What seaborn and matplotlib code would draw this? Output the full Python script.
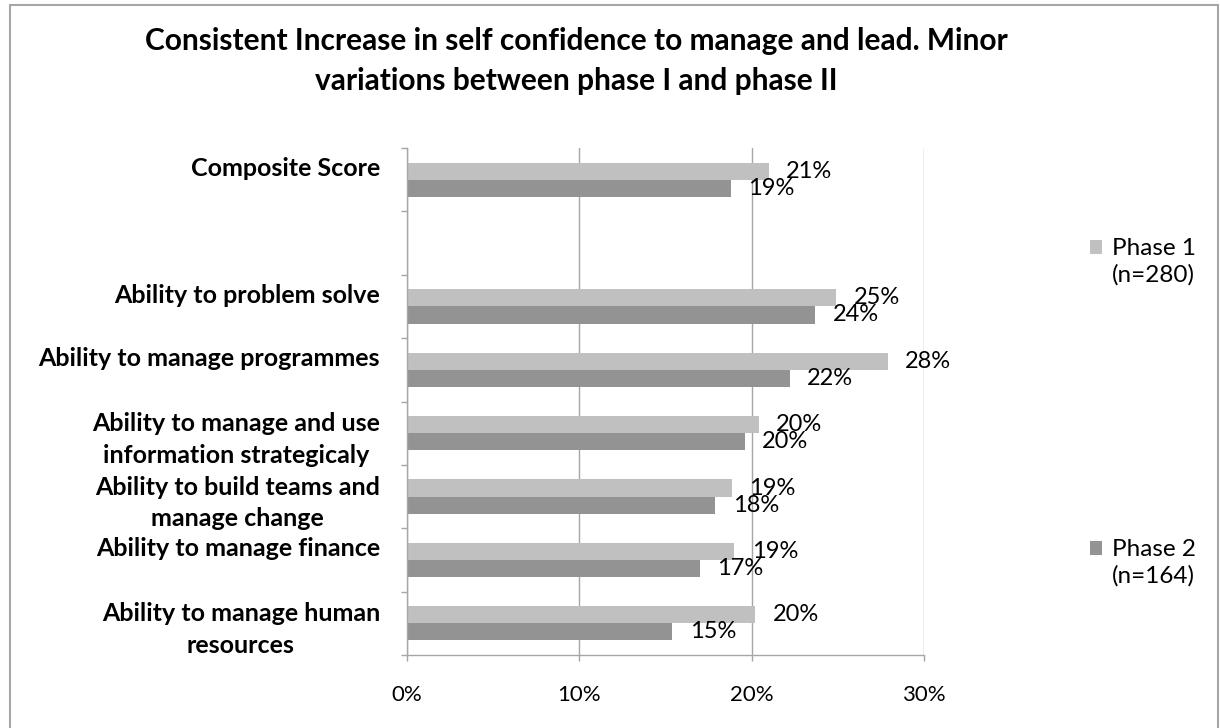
import numpy as np
import pandas as pd
import seaborn as sns
import matplotlib
matplotlib.use("Agg")
import matplotlib.pyplot as plt
from matplotlib.transforms import ScaledTranslation
from matplotlib.patches import Rectangle
from matplotlib.ticker import FixedLocator

sns.set_theme(style="white")
plt.rcParams['font.family'] = ['Lato', 'DejaVu Sans']
plt.rcParams['text.color'] = 'black'

# ---------------- data ----------------
categories = [
    "Composite Score",
    "Ability to problem solve",
    "Ability to manage programmes",
    "Ability to manage and use\ninformation strategicaly",
    "Ability to build teams and\nmanage change",
    "Ability to manage finance",
    "Ability to manage human\nresources",
]
# display order (top to bottom) with an empty slot after the composite score
order = [categories[0], " "] + categories[1:]
phases = ["Phase 1\n(n=280)", "Phase 2\n(n=164)"]
phase1 = [21.0, 24.9, 27.9, 20.4, 18.85, 19.0, 20.2]
phase2 = [18.8, 23.7, 22.2, 19.6, 17.9, 17.0, 15.4]
colors = ["#C0C0C0", "#939393"]
x_ticks = [0, 10, 20, 30]
x_ticklabels = ["0%", "10%", "20%", "30%"]
title = ("Consistent Increase in self confidence to manage and lead. Minor\n"
         "variations between phase I and phase II")

df = pd.DataFrame({
    "category": categories * 2,
    "phase": [phases[0]] * len(categories) + [phases[1]] * len(categories),
    "value": phase1 + phase2,
})

W, H = 1220, 728
fig = plt.figure(figsize=(W / 100, H / 100), dpi=100)
fig.patch.set_facecolor("white")
ax = fig.add_axes([407 / W, 1 - 655 / H, (924 - 407) / W, (655 - 148) / H])

sns.barplot(data=df, y="category", x="value", hue="phase", order=order,
            hue_order=phases, palette=colors, width=0.54, saturation=1,
            orient="h", ax=ax, edgecolor="none", linewidth=0)

handles, labels = ax.get_legend_handles_labels()
if ax.get_legend() is not None:
    ax.get_legend().remove()

grid_col = "#A6A6A6"
ax.set_xlim(0, 30)
ax.set_ylim(7.5, -0.5)
ax.set_xticks(x_ticks)
ax.set_xticklabels(x_ticklabels)
ax.set_xlabel("")
ax.set_ylabel("")
ax.xaxis.grid(True, color=grid_col, lw=1)
ax.yaxis.grid(False)
ax.set_axisbelow(True)
for s in ["top", "right"]:
    ax.spines[s].set_visible(False)
for s in ["left", "bottom"]:
    ax.spines[s].set_color(grid_col)
    ax.spines[s].set_linewidth(1)

ax.yaxis.set_minor_locator(FixedLocator(np.arange(-0.5, 8.0, 1.0)))
ax.tick_params(axis="x", which="major", bottom=True, length=4.5, width=1,
               color=grid_col, direction="out", pad=17, labelsize=16,
               labelcolor="black")
ax.tick_params(axis="y", which="major", left=True, length=0, pad=19.5,
               labelsize=18, labelcolor="black")
ax.tick_params(axis="y", which="minor", left=True, length=4.5, width=1,
               color=grid_col, direction="out")

# data labels
for cont in ax.containers:
    ax.bar_label(cont, labels=[f"{b.get_width():.0f}%" for b in cont],
                 padding=12.5, fontsize=17, color="black")

# legend
leg = fig.legend(handles, phases, loc="upper left",
                 bbox_to_anchor=(1090 / W, 1 - 238 / H), frameon=False,
                 fontsize=17.5, handlelength=0.5, handleheight=0.5,
                 handletextpad=0.42, labelspacing=10.4, borderpad=0,
                 borderaxespad=0, labelcolor="black")
for t in leg.get_texts():
    t.set_linespacing(1.3)
for h in leg.legend_handles:
    h.set_y(h.get_y() + 10.5)

# title
fig.text(576 / W, 1 - 61 / H, title, ha="center", va="center",
         fontsize=21.5, fontweight="bold", linespacing=1.53, color="black")

# chart border
fig.patches.append(Rectangle((10 / W, -0.05), (1218 - 10) / W, 1.05 - 5 / H,
                             transform=fig.transFigure, fill=False,
                             edgecolor=grid_col, lw=1.5))

# y tick label styling and offsets
for lab in ax.get_yticklabels():
    lab.set_fontweight("bold")
    lab.set_multialignment("center")
    lab.set_linespacing(1.45)
    txt = lab.get_text()
    if txt.strip() and "\n" not in txt:
        lab.set_transform(lab.get_transform() +
                          ScaledTranslation(0, 13 / 100, fig.dpi_scale_trans))

fig.savefig("out.png", dpi=100)
